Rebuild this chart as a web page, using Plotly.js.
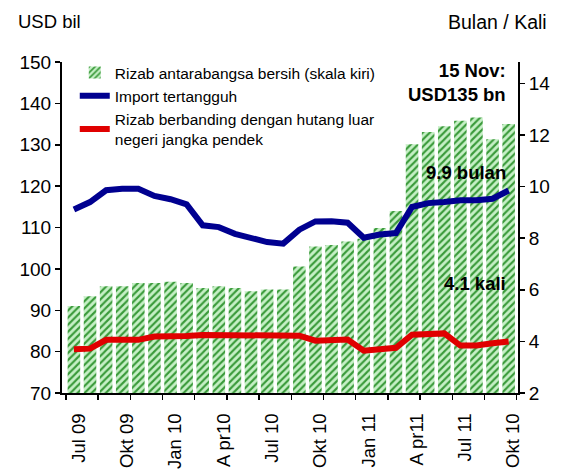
<!DOCTYPE html>
<html>
<head>
<meta charset="utf-8">
<script src="https://cdn.plot.ly/plotly-3.0.1.min.js"></script>
<style>html,body{margin:0;padding:0;background:#fff;}#chart{width:562px;height:470px;}</style>
</head>
<body>
<div id="chart"></div>
<script>
// Monthly index (Jul 09 .. Oct 11)
const monthIndex = [0,1,2,3,4,5,6,7,8,9,10,11,12,13,14,15,16,17,18,19,20,21,22,23,24,25,26,27];
const tickPositions = [0,3,6,9,12,15,18,21,24,27];
const tickLabels = ["Jul 09","Okt 09","Jan 10","A pr10","Jul 10","Okt 10","Jan 11","A pr11","Jul 11","Okt 10"];

// Rizab antarabangsa bersih (USD bil, left axis)
const reserves = [91.0, 93.4, 95.8, 95.8, 96.6, 96.6, 96.9, 96.6, 95.4, 95.8, 95.4, 94.6, 95.0, 95.0,
                  100.6, 105.4, 105.8, 106.6, 107.3, 109.9, 114.0, 130.1, 133.1, 134.5, 135.8, 136.6, 131.3, 135.0];
// Import tertangguh (bulan, right axis)
const importCover = [9.11, 9.40, 9.86, 9.92, 9.92, 9.64, 9.51, 9.31, 8.50, 8.43, 8.17, 7.98, 7.85, 7.79,
                     8.33, 8.65, 8.66, 8.60, 8.02, 8.14, 8.20, 9.21, 9.36, 9.40, 9.47, 9.47, 9.53, 9.85];
// Rizab berbanding dengan hutang luar negeri jangka pendek (kali, right axis)
const reserveToDebt = [3.70, 3.72, 4.06, 4.06, 4.06, 4.19, 4.19, 4.21, 4.25, 4.25, 4.25, 4.25, 4.25, 4.25,
                       4.22, 4.03, 4.07, 4.07, 3.64, 3.69, 3.75, 4.26, 4.26, 4.31, 3.84, 3.84, 3.93, 4.00];

const FONT = "Arial, 'Liberation Sans', sans-serif";

const traces = [
  {
    type: 'bar', x: monthIndex, y: reserves, yaxis: 'y',
    name: 'Rizab antarabangsa bersih (skala kiri)',
    marker: {
      color: '#c6f0c6',
      line: {width: 0},
      pattern: {shape: '/', fgcolor: '#3a9a3a', bgcolor: '#c6f0c6', size: 5, solidity: 0.42}
    },
    width: 0.78
  },
  {
    type: 'scatter', mode: 'lines', x: monthIndex, y: importCover, yaxis: 'y2',
    name: 'Import tertangguh',
    line: {color: '#000090', width: 6}
  },
  {
    type: 'scatter', mode: 'lines', x: monthIndex, y: reserveToDebt, yaxis: 'y2',
    name: 'Rizab berbanding dengan hutang luar<br>negeri jangka pendek',
    line: {color: '#e00000', width: 6}
  }
];

const layout = {
  width: 562, height: 470,
  margin: {l: 62, r: 44, t: 62, b: 77, pad: 0},
  paper_bgcolor: '#fff', plot_bgcolor: '#fff',
  font: {family: FONT, color: '#000', size: 15},
  showlegend: true,
  legend: {
    x: 0.028, y: 1.018, xanchor: 'left', yanchor: 'top',
    bgcolor: 'rgba(0,0,0,0)', borderwidth: 0,
    font: {family: FONT, size: 15.5, color: '#000'},
    traceorder: 'normal'
  },
  xaxis: {
    range: [-0.74, 27.58],
    tickmode: 'array', tickvals: tickPositions.map(v => v + 0.3), ticktext: tickLabels,
    tickangle: -90, ticks: '', ticklabelstandoff: 11,
    tickfont: {family: FONT, size: 18.5, color: '#000'},
    showline: true, linecolor: '#000', linewidth: 2,
    showgrid: false, zeroline: false,
    minor: {tick0: -0.5, dtick: 2, ticks: 'outside', ticklen: 5, tickwidth: 1.5, tickcolor: '#000', showgrid: false}
  },
  yaxis: {
    range: [70, 150], dtick: 10, tick0: 70,
    ticks: 'outside', ticklen: 5, tickwidth: 1.5, tickcolor: '#000',
    showline: true, linecolor: '#000', linewidth: 2,
    showgrid: false, zeroline: false,
    tickfont: {family: FONT, size: 19, color: '#000'}
  },
  yaxis2: {
    overlaying: 'y', side: 'right',
    range: [2, 14.83], tickmode: 'array', tickvals: [2,4,6,8,10,12,14],
    ticks: 'outside', ticklen: 5, tickwidth: 1.5, tickcolor: '#000',
    showline: true, linecolor: '#000', linewidth: 2,
    showgrid: false, zeroline: false,
    tickfont: {family: FONT, size: 19, color: '#000'}
  },
  bargap: 0.22,
  annotations: [
    {xref: 'paper', yref: 'paper', x: -0.1, y: 1.121, xanchor: 'left', yanchor: 'middle',
     text: 'USD bil', showarrow: false, font: {family: FONT, size: 18.5, color: '#000'}},
    {xref: 'paper', yref: 'paper', x: 1.068, y: 1.121, xanchor: 'right', yanchor: 'middle',
     text: 'Bulan / Kali', showarrow: false, font: {family: FONT, size: 19.5, color: '#000'}},
    {xref: 'paper', yref: 'paper', x: 0.978, y: 0.937, xanchor: 'right', yanchor: 'middle', align: 'right',
     text: '<b>15 Nov:</b><br><b>USD135 bn</b>', showarrow: false, font: {family: FONT, size: 18.5, color: '#000'}},
    {xref: 'paper', yref: 'paper', x: 0.978, y: 0.666, xanchor: 'right', yanchor: 'middle',
     text: '<b>9.9 bulan</b>', showarrow: false, font: {family: FONT, size: 18.5, color: '#000'}},
    {xref: 'paper', yref: 'paper', x: 0.978, y: 0.332, xanchor: 'right', yanchor: 'middle',
     text: '<b>4.1 kali</b>', showarrow: false, font: {family: FONT, size: 18.5, color: '#000'}}
  ]
};

Plotly.newPlot('chart', traces, layout, {displayModeBar: false, staticPlot: true});
</script>
</body>
</html>
